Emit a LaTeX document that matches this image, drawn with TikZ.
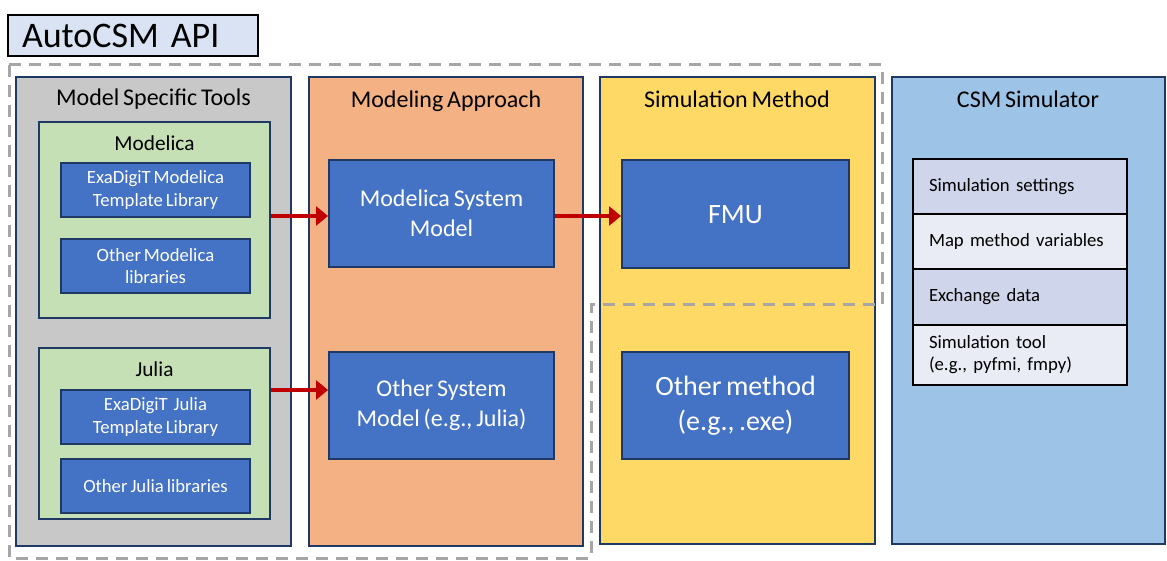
\documentclass[tikz,border=0pt]{standalone}
\usepackage{fontspec}
\setmainfont{Carlito}[WordSpace=0.7]
\usepackage{tikz}
\usetikzlibrary{arrows.meta,%
                positioning}
\definecolor{navy}{HTML}{1F3864}
\definecolor{toolgray}{HTML}{C8C8C8}
\definecolor{approachfill}{HTML}{F4B183}
\definecolor{methodfill}{HTML}{FFD966}
\definecolor{csmfill}{HTML}{9DC3E6}
\definecolor{libfill}{HTML}{C5E0B4}
\definecolor{boxblue}{HTML}{4472C4}
\definecolor{apifill}{HTML}{DAE3F3}
\definecolor{rowdark}{HTML}{CFD5EA}
\definecolor{rowlight}{HTML}{E9EBF5}
\definecolor{dashgray}{HTML}{A6A6A6}
\definecolor{linkred}{HTML}{C00000}

\begin{document}
\begin{tikzpicture}[x=1pt, y=-1pt]
    \useasboundingbox (0,0) rectangle (1167,561);
    \tikzstyle{Column}=[draw=navy, line width=2.25pt, minimum width=275pt, minimum height=469pt]
    \tikzstyle{Head}=[font=\fontsize{24}{29}\selectfont]
    \tikzstyle{Group}=[draw=navy, line width=2pt, fill=libfill, minimum width=231pt]
    \tikzstyle{LibBox}=[draw=navy, line width=2pt, fill=boxblue, text=white, align=center,
                        minimum width=189pt, minimum height=54pt, font=\fontsize{18.7}{22.5}\selectfont]
    \tikzstyle{ModelBox}=[LibBox, minimum width=225pt, minimum height=107pt, font=\fontsize{24}{30}\selectfont]
    \tikzstyle{MethodBox}=[LibBox, minimum width=227pt, minimum height=108pt, font=\fontsize{28}{35}\selectfont]
    \tikzstyle{Row}=[draw=black, line width=2pt, minimum width=214pt, minimum height=55pt,
                     text width=182pt, inner xsep=16pt, align=left, font=\fontsize{18.7}{22}\selectfont]
    \tikzstyle{Link}=[draw=linkred, line width=4pt, -{Triangle[length=12pt, width=19pt]}]

    \node[draw=black, line width=2.5pt, fill=apifill, minimum width=250pt, minimum height=41pt,
          text width=222pt, inner xsep=14pt, align=left, font=\fontsize{36}{40}\selectfont] (api) at (133,35.5) {AutoCSM API};

    \node[Column, fill=toolgray] (tools) at (153.5,311.5) {};
    \node[Column, fill=approachfill, minimum width=274pt] (approach) at (446,311.5) {};
    \node[Column, fill=methodfill, minimum height=467pt] (method) at (737.5,310.5) {};
    \node[Column, fill=csmfill, minimum width=273pt, minimum height=467pt] (csm) at (1028.5,310.5) {};
    \node[Head] (toolsT) at (153.5,99) {Model Specific Tools};
    \node[Head] (approachT) at (446,101) {Modeling Approach};
    \node[Head] (methodT) at (737,99) {Simulation Method};
    \node[Head] (csmT) at (1028,99) {CSM Simulator};

    \node[Group, minimum height=196pt] (modelica) at (154.5,220) {};
    \node[Group, minimum height=171pt] (julia) at (154.5,433.5) {};
    \node[font=\fontsize{21.3}{25}\selectfont] (modelicaT) at (154.5,143) {Modelica};
    \node[font=\fontsize{21.3}{25}\selectfont] (juliaT) at (154.5,369) {Julia};

    \node[LibBox] (exaMod) at (155.5,190) {ExaDigiT Modelica\\Template Library};
    \node[LibBox] (otherMod) at (155.5,266) {Other Modelica\\libraries};
    \node[LibBox] (exaJul) at (155.5,417) {ExaDigiT\ \ Julia\\Template Library};
    \node[LibBox] (otherJul) at (155.5,486) {Other Julia libraries};

    \node[ModelBox] (sysMod) at (441.5,213.5) {Modelica System\\Model};
    \node[ModelBox] (sysOther) at (441.5,405.5) {Other System\\Model (e.g., Julia)};
    \node[MethodBox] (fmu) at (735.5,214.5) {FMU};
    \node[MethodBox, minimum height=107pt] (otherMeth) at (735.5,405.5) {Other method\\(e.g., .exe)};

    \node[Row, fill=rowdark] (settings) at (1020,187) {Simulation settings};
    \node[Row, fill=rowlight] (mapvars) at (1020,242) {Map method variables};
    \node[Row, fill=rowdark] (exchange) at (1020,297) {Exchange data};
    \node[Row, fill=rowlight, minimum height=60pt] (simtool) at (1020,354.5) {Simulation tool\\(e.g., pyfmi, fmpy)};

    \draw[Link] (modelica.east |- 0,216) -- (sysMod.west |- 0,216);
    \draw[Link] (julia.east |- 0,390) -- (sysOther.west |- 0,390);
    \draw[Link] (sysMod.east |- 0,216) -- (fmu.west |- 0,216);

    \draw[dashgray, line width=3pt, dash pattern=on 12pt off 8pt]
        (9,65) -- (882,65) -- (882,305) -- (591,305) -- (591,558) -- (9,558) -- cycle;
\end{tikzpicture}
\end{document}
